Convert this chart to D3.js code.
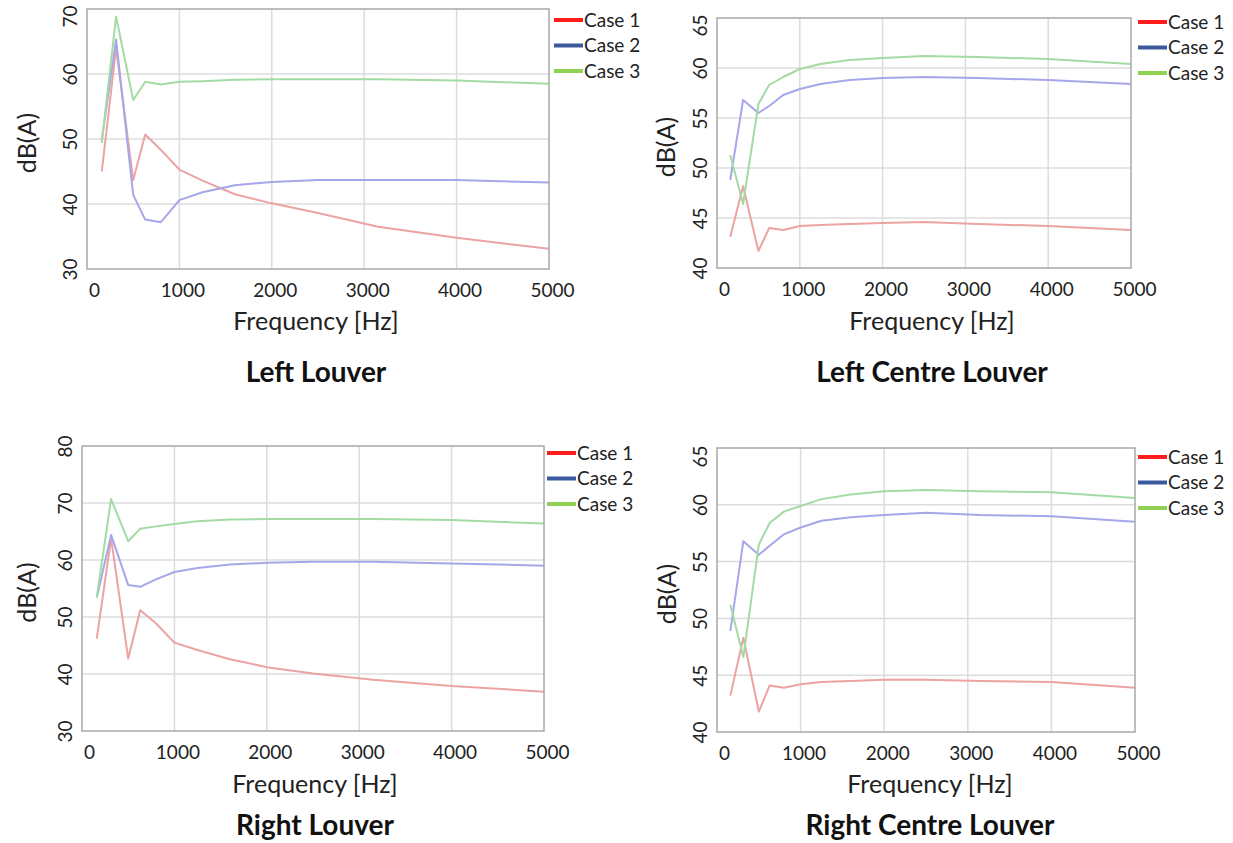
<!DOCTYPE html>
<html>
<head>
<meta charset="utf-8">
<title>Louver noise</title>
<script src="https://d3js.org/d3.v7.min.js"></script>
<style>
  body { margin: 0; background: #fff; }
  svg { font-family: Lato, "Open Sans", sans-serif; }
</style>
</head>
<body>
<svg id="chart" width="1233" height="843"></svg>
<script>
// frequency bands [Hz]
var freqs = [160, 315, 500, 630, 800, 1000, 1250, 1600, 2000, 2500, 3150, 4000, 5000]
var caseNames = ["Case 1", "Case 2", "Case 3"]
var titles = ["Left Louver", "Left Centre Louver", "Right Louver", "Right Centre Louver"]
var xTicks = [0, 1000, 2000, 3000, 4000, 5000]
var yTicksOuter = [30, 40, 50, 60, 70]
var yTicksOuterR = [30, 40, 50, 60, 70, 80]
var yTicksCentre = [40, 45, 50, 55, 60, 65]

// dB(A) per band
var leftCase1 = [45.0, 64.0, 43.7, 50.7, 48.3, 45.3, 43.6, 41.5, 40.1, 38.6, 36.5, 34.8, 33.1]
var leftCase2 = [49.9, 65.3, 41.4, 37.6, 37.2, 40.6, 41.8, 42.9, 43.4, 43.7, 43.7, 43.7, 43.3]
var leftCase3 = [49.4, 68.8, 56.0, 58.8, 58.4, 58.8, 58.9, 59.1, 59.2, 59.2, 59.2, 59.0, 58.5]

var leftCentreCase1 = [43.1, 48.2, 41.7, 44.0, 43.8, 44.2, 44.3, 44.4, 44.5, 44.6, 44.4, 44.2, 43.8]
var leftCentreCase2 = [48.8, 56.8, 55.5, 56.2, 57.3, 57.9, 58.4, 58.8, 59.0, 59.1, 59.0, 58.8, 58.4]
var leftCentreCase3 = [51.3, 46.4, 56.4, 58.3, 59.1, 59.9, 60.4, 60.8, 61.0, 61.2, 61.1, 60.9, 60.4]

var rightCase1 = [46.2, 63.8, 42.7, 51.2, 48.9, 45.5, 44.2, 42.6, 41.2, 40.1, 39.0, 37.9, 36.9]
var rightCase2 = [53.4, 64.4, 55.6, 55.3, 56.6, 57.9, 58.6, 59.2, 59.5, 59.7, 59.7, 59.4, 59.0]
var rightCase3 = [53.5, 70.7, 63.3, 65.5, 65.9, 66.3, 66.8, 67.1, 67.2, 67.2, 67.2, 67.0, 66.4]

var rightCentreCase1 = [43.2, 48.3, 41.8, 44.1, 43.9, 44.2, 44.4, 44.5, 44.6, 44.6, 44.5, 44.4, 43.9]
var rightCentreCase2 = [48.9, 56.8, 55.6, 56.4, 57.4, 58.0, 58.6, 58.9, 59.1, 59.3, 59.1, 59.0, 58.5]
var rightCentreCase3 = [51.2, 46.6, 56.5, 58.4, 59.4, 59.9, 60.5, 60.9, 61.2, 61.3, 61.2, 61.1, 60.6]

var lineColors = ["#eba3a3", "#a6a6ea", "#a3dba3"]
var legendColors = ["#ff1c1c", "#3b5a9e", "#8fd253"]

var panels = [
  {title: titles[0], series: [leftCase1, leftCase2, leftCase3], yTicks: yTicksOuter, topShift: 7,
   left: 87, right: 549, top: 9, bottom: 269, legX: 554, legY: 20, cx: 316, yLabX: 36, axY: 330, titleY: 382},
  {title: titles[1], series: [leftCentreCase1, leftCentreCase2, leftCentreCase3], yTicks: yTicksCentre, topShift: 7,
   left: 717, right: 1131, top: 18, bottom: 268, legX: 1138, legY: 22, cx: 932, yLabX: 675, axY: 330, titleY: 382},
  {title: titles[2], series: [rightCase1, rightCase2, rightCase3], yTicks: yTicksOuterR, topShift: 0,
   left: 82, right: 544, top: 446, bottom: 731, legX: 547, legY: 453, cx: 315, yLabX: 36, axY: 793, titleY: 835},
  {title: titles[3], series: [rightCentreCase1, rightCentreCase2, rightCentreCase3], yTicks: yTicksCentre, topShift: 8,
   left: 717, right: 1135, top: 448, bottom: 732, legX: 1138, legY: 457, cx: 930, yLabX: 676, axY: 793, titleY: 835}
]

var svg = d3.select("#chart")

panels.forEach(function(p) {
  var x = d3.scaleLinear().domain([0, 5000]).range([p.left, p.right])
  var y = d3.scaleLinear().domain(d3.extent(p.yTicks)).range([p.bottom, p.top])
  var yMax = d3.max(p.yTicks)
  var g = svg.append("g")

  // grid
  g.append("g").selectAll("line")
    .data(xTicks.slice(1, -1))
    .join("line")
      .attr("x1", d => x(d)).attr("x2", d => x(d))
      .attr("y1", p.top).attr("y2", p.bottom)
      .attr("stroke", "#dcdcdc").attr("stroke-width", 1.5)
  g.append("g").selectAll("line")
    .data(p.yTicks.slice(1, -1))
    .join("line")
      .attr("x1", p.left).attr("x2", p.right)
      .attr("y1", d => y(d)).attr("y2", d => y(d))
      .attr("stroke", "#dcdcdc").attr("stroke-width", 1.5)

  // series
  var line = d3.line().x((d, i) => x(freqs[i])).y(d => y(d))
  p.series.forEach(function(s, k) {
    g.append("path")
      .attr("d", line(s))
      .attr("fill", "none")
      .attr("stroke", lineColors[k])
      .attr("stroke-width", 2)
      .attr("stroke-linejoin", "round")
  })

  // frame
  g.append("rect")
    .attr("x", p.left).attr("y", p.top)
    .attr("width", p.right - p.left).attr("height", p.bottom - p.top)
    .attr("fill", "none").attr("stroke", "#a8a8a8").attr("stroke-width", 1.5)

  // axes
  var xa = g.append("g")
    .attr("transform", "translate(0," + p.bottom + ")")
    .call(d3.axisBottom(x).tickValues(xTicks).tickSize(0).tickPadding(0).tickFormat(d3.format("d")))
  xa.select(".domain").remove()
  xa.selectAll("text")
    .attr("y", 28).attr("dy", 0).attr("dx", d => d === 0 ? 7 : 3)
    .attr("font-size", 19).attr("font-family", "Lato").attr("fill", "#222")

  var ya = g.append("g")
    .attr("transform", "translate(" + p.left + ",0)")
    .call(d3.axisLeft(y).tickValues(p.yTicks).tickSize(0).tickFormat(d3.format("d")))
  ya.select(".domain").remove()
  ya.selectAll("text")
    .attr("x", 0).attr("dy", 0)
    .attr("text-anchor", "middle")
    .attr("transform", d => "translate(-10," + (d === yMax ? p.topShift : 0) + ") rotate(-90)")
    .attr("font-size", 19).attr("font-family", "Lato").attr("fill", "#222")

  // axis labels
  g.append("text")
    .attr("x", p.cx).attr("y", p.axY)
    .attr("text-anchor", "middle")
    .attr("font-size", 25).attr("fill", "#222")
    .text("Frequency [Hz]")
  g.append("text")
    .attr("transform", "translate(" + p.yLabX + "," + ((p.top + p.bottom) / 2 + 4) + ") rotate(-90)")
    .attr("text-anchor", "middle")
    .attr("font-size", 25).attr("fill", "#222")
    .text("dB(A)")
  g.append("text")
    .attr("x", p.cx).attr("y", p.titleY)
    .attr("text-anchor", "middle")
    .attr("font-size", 28).attr("font-weight", "bold").attr("fill", "#111")
    .text(p.title)

  // legend
  var leg = g.append("g").selectAll("g")
    .data(caseNames)
    .join("g")
      .attr("transform", (d, i) => "translate(" + p.legX + "," + (p.legY + i * 25.5) + ")")
  leg.append("line")
    .attr("x1", 0).attr("x2", 29)
    .attr("stroke", (d, i) => legendColors[i]).attr("stroke-width", 4)
  leg.append("text")
    .attr("x", 30).attr("dy", "0.35em")
    .attr("font-size", 19).attr("fill", "#222")
    .text(d => d)
})
</script>
</body>
</html>
